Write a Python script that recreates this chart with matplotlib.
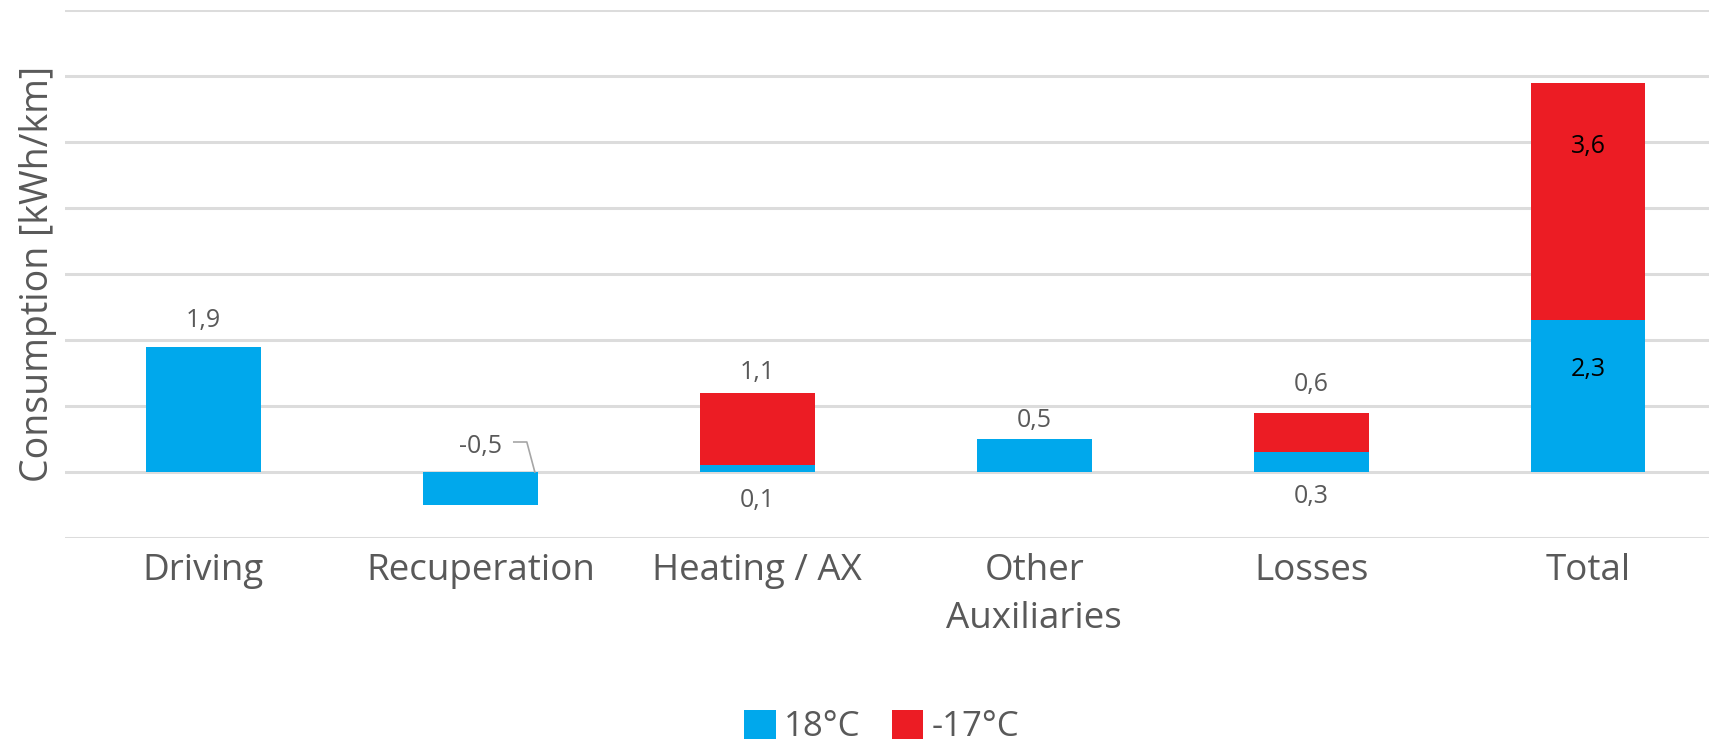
import matplotlib
matplotlib.use("Agg")
import matplotlib.pyplot as plt
from matplotlib.patches import Patch
import numpy as np

plt.rcParams['font.family'] = ['Open Sans', 'DejaVu Sans']

# consumption per category, kWh/km
categories = ["Driving", "Recuperation", "Heating / AX", "Other\nAuxiliaries", "Losses", "Total"]
warm = [1.9, -0.5, 0.1, 0.5, 0.3, 2.3]     # 18°C
cold = [0.0, 0.0, 1.1, 0.0, 0.6, 3.6]      # extra at -17°C
series_names = ["18°C", "-17°C"]

BLUE = "#00a8ec"
RED = "#ec1c24"
GREY = "#595959"

W, H = 1709, 745
fig = plt.figure(figsize=(W / 100, H / 100), dpi=100)
ax = fig.add_axes([65 / W, (H - 538) / H, (W - 65) / W, (538 - 10) / H])

x = np.arange(len(categories))
width = 0.415
warm = np.array(warm)
cold = np.array(cold)

ax.bar(x, warm, width, color=BLUE, zorder=2)
ax.bar(x, cold, width, bottom=np.clip(warm, 0, None), color=RED, zorder=2)

ax.set_xlim(-0.5, 5.437)
ax.set_ylim(-1, 7)
ax.set_yticks(range(-1, 8))
ax.set_yticklabels([])
ax.yaxis.grid(True, color="#dcdcdc", lw=2.2)
ax.set_axisbelow(True)
for s in ax.spines.values():
    s.set_visible(False)
ax.tick_params(length=0)
ax.set_xticks(x, categories, fontsize=26.5, color=GREY, linespacing=1.45)
ax.tick_params(axis="x", pad=11)

ax.set_ylabel("Consumption [kWh/km]", fontsize=27, color=GREY)
ax.yaxis.set_label_coords(-0.005, 0.5)


def fmt(v):
    return f"{v:.1f}".replace(".", ",")


def label(xi, y, text, dy, color=GREY):
    ax.annotate(text, (xi, y), xytext=(0, dy), textcoords="offset pixels",
                ha="center", va="center", fontsize=18, color=color)


# value labels
label(0, warm[0], fmt(warm[0]), 26)
label(1, 0, fmt(warm[1]), 26)
label(2, 0, fmt(warm[2]), -29)
label(2, warm[2] + cold[2], fmt(cold[2]), 20)
label(3, warm[3], fmt(warm[3]), 19)
label(4, 0, fmt(warm[4]), -25)
label(4, warm[4] + cold[4], fmt(cold[4]), 28)
label(5, warm[5] / 2, fmt(warm[5]), 27, color="black")
label(5, warm[5] + cold[5] / 2, fmt(cold[5]), 55, color="black")

# leader line from the recuperation label to its bar
px, py = ax.transData.transform((x[1] + width / 2, 0))
leader = ax.transData.inverted().transform(
    [(px - 24, py + 30), (px - 11, py + 30), (px - 3, py)])
ax.plot(leader[:, 0], leader[:, 1], color="#a6a6a6", lw=1.2, zorder=3)

handles = [Patch(facecolor=BLUE), Patch(facecolor=RED)]
fig.legend(handles, series_names, loc="center", bbox_to_anchor=(882 / W, 1 - 727 / H),
           ncol=2, frameon=False, fontsize=25, labelcolor=GREY,
           handlelength=0.9, handleheight=0.9, handletextpad=0.25, columnspacing=0.9)

fig.savefig("out.png", dpi=100)
